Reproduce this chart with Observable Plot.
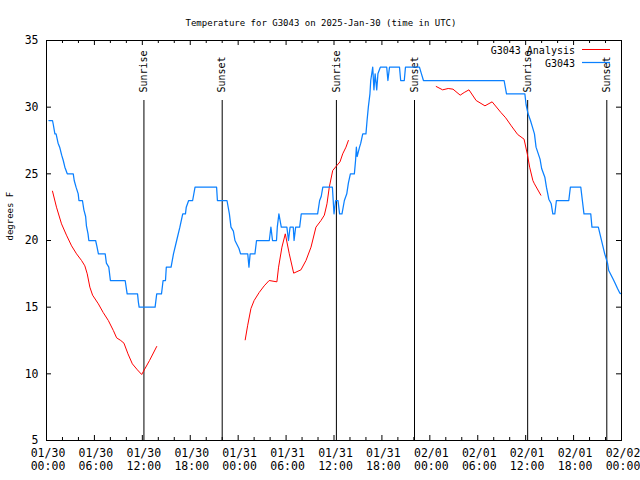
<!DOCTYPE html>
<html><head><meta charset="utf-8">
<script src="https://cdn.jsdelivr.net/npm/d3@7"></script>
<script src="https://cdn.jsdelivr.net/npm/@observablehq/plot@0.6"></script>
<style>body{margin:0;background:#fff}</style>
</head><body><div id="chart"></div>
<script>
// ---- data (hours after 2025-01-30 00:00 UTC, temperature °F) ----
const titleText = "Temperature for G3043 on 2025-Jan-30 (time in UTC)";
const yLabelText = "degrees F";
const seriesNames = ["G3043 Analysis", "G3043"];
const seriesColors = ["#ff0000", "#0a80ff"];

const blueHours = [0.3,0.75,0.85,1.05,1.2,1.45,1.65,1.9,2.1,2.3,2.6,3.35,3.47,3.7,3.97,4.06,4.5,4.68,4.9,5.0,5.2,5.3,6.15,6.3,6.5,7.35,7.5,7.8,8.0,9.85,10.1,11.4,11.5,11.6,13.6,13.8,14.4,14.6,14.9,15.0,15.6,15.9,16.3,16.7,17.06,17.4,17.5,17.8,18.3,18.6,21.3,21.4,22.6,22.9,23.1,23.4,23.6,24.1,24.3,25.2,25.35,25.5,26.1,26.3,27.9,28.1,28.3,28.8,28.9,29.1,29.4,30.1,30.3,30.5,30.9,31.0,31.2,31.7,31.9,33.95,34.2,34.4,34.6,35.8,36.0,36.2,36.5,36.7,37.0,37.3,37.6,37.8,38.05,38.55,38.7,38.8,38.9,39.2,39.35,39.6,40.0,40.14,40.3,40.5,40.6,40.85,41.0,41.15,41.35,41.5,41.8,42.6,42.75,42.95,44.2,44.35,44.8,44.95,46.7,46.95,47.2,57.3,57.6,59.9,60.05,60.3,60.6,60.85,61.1,61.3,61.8,62.0,62.4,62.6,62.9,63.2,63.4,63.65,63.85,65.4,65.6,66.9,67.1,67.3,68.15,68.3,69.1,69.3,69.6,69.9,70.25,70.4,70.96,71.2,71.5,71.8,72.0];
const blueTemps = [29,29,28.7,28,28,27.3,27,26.4,26,25.5,25,25,24.5,24,23.5,23,23,22.3,21.8,21.1,20.5,20,20,19.6,19,19,18.3,18,17,17,16,16,15.4,15,15,16,16,17,17,18,18,19,20,21,22,22,22.5,23,23,24,24,23,23,22,21,20.7,20,19.4,19,19,18,19,19,20,20,21,20,20,21,22,21,21,20,21,21,20,21,21,22,22,23,23.3,24,24,22,23,23,22,22,23,23.5,24.3,25,25,26,27,26.3,27,27.3,28,28,29,30,31,32,33,31.3,32.5,31.3,32.5,33,33,32,33,33,32,32,33,33,32.5,32,32,31,31,30.2,29.5,29,28.5,28,27,26.1,25.4,24.75,24,23.1,22.75,22,22,23,23,24,24,23,22,22,21,21,20.5,19.75,19,18.3,17.75,17.1,16.8,16.4,16.05,16];

// null entries separate the three analysis segments
const redHours = [0.75,1.25,1.88,2.5,3.14,3.76,4.39,4.8,5.1,5.43,5.77,6.49,7.1,7.74,8.37,8.78,9.3,9.7,10.2,10.75,11.38,11.92,12.9,13.8,
  null,
  24.88,25.18,25.6,26.0,26.63,27.26,27.88,28.85,29.06,29.48,29.9,30.4,30.95,31.86,32.49,33.12,33.74,34.37,34.79,35.12,35.41,35.84,36.25,36.75,37.09,37.5,37.8,
  null,
  48.8,49.6,50.3,50.9,51.8,52.3,52.9,53.8,54.9,55.8,56.9,57.5,58.2,59.0,59.8,60.2,60.5,60.9,61.1,61.9];
const redTemps = [23.7,22.5,21.25,20.4,19.6,19.0,18.5,18.1,17.5,16.5,15.9,15.25,14.6,14.0,13.25,12.7,12.5,12.3,11.5,10.75,10.3,9.95,11.0,12.05,
  null,
  12.55,13.6,14.9,15.5,16.1,16.6,17.0,16.9,18.0,19.5,20.5,19.0,17.55,17.8,18.5,19.5,21.0,21.5,21.9,22.75,24.0,25.25,25.55,25.9,26.5,27.0,27.5,
  null,
  31.55,31.3,31.4,31.35,30.9,31.1,31.3,30.5,30.1,30.4,29.6,29.2,28.6,27.95,27.6,26.5,25.5,24.5,24.25,23.4];

const eventHours = [12.2, 22.0, 36.3, 46.08, 60.25, 70.16];
const eventLabels = ["Sunrise","Sunset","Sunrise","Sunset","Sunrise","Sunset"];
const yTicks = [5,10,15,20,25,30,35];
const yDomain = [5, 35];
const eventLineTop = 30.5;
const eventLabelBase = 31.1;

// ---- build tables ----
const start = Date.UTC(2025,0,30);
const end = Date.UTC(2025,1,2);
const toDate = h => h == null ? null : new Date(start + h*3600e3);
const blue = blueHours.map((h,i)=>({t: toDate(h), v: blueTemps[i]}));
const red = redHours.map((h,i)=>({t: toDate(h), v: redTemps[i]}));
const events = eventHours.map((h,i)=>({t: toDate(h), label: eventLabels[i]}));
const majorX = d3.utcHour.every(6).range(new Date(start), new Date(end + 1));
const minorX = d3.utcHour.every(2).range(new Date(start), new Date(end + 1)).filter(d => d.getUTCHours() % 6 !== 0);

const W = 640, H = 480, mL = 46, mR = 19, mT = 40, mB = 40;
const iW = W - mL - mR, iH = H - mT - mB;
const mono = "DejaVu Sans Mono, monospace";
const fmt = d3.utcFormat("%m/%d\n%H:%M");

const svg = Plot.plot({
  width: W, height: H,
  marginLeft: mL, marginRight: mR, marginTop: mT, marginBottom: mB,
  style: {fontFamily: mono, background: "#fff", color: "#000", overflow: "visible"},
  x: {type: "utc", domain: [new Date(start), new Date(end)]},
  y: {domain: yDomain},
  marks: [
    Plot.axisX({ticks: majorX, tickSize: 0, tickPadding: 7, tickFormat: fmt, fontSize: 11.5, lineHeight: 1.13, label: null, dx: 1.5}),
    Plot.axisY({ticks: yTicks, tickSize: 0, tickPadding: 8, fontSize: 11.5, label: null}),
    // inward ticks on all four sides
    Plot.ruleX(majorX, {x: d => d, insetTop: iH - 5, stroke: "#000"}),
    Plot.ruleX(majorX, {x: d => d, insetBottom: iH - 5, stroke: "#000"}),
    Plot.ruleX(minorX, {x: d => d, insetTop: iH - 3, stroke: "#000"}),
    Plot.ruleX(minorX, {x: d => d, insetBottom: iH - 3, stroke: "#000"}),
    Plot.ruleY(yTicks, {y: d => d, insetRight: iW - 5, stroke: "#000"}),
    Plot.ruleY(yTicks, {y: d => d, insetLeft: iW - 5, stroke: "#000"}),
    // sunrise / sunset
    Plot.ruleX(events, {x: "t", y1: yDomain[0], y2: eventLineTop, stroke: "#000", strokeWidth: 1}),
    Plot.text(events, {x: "t", y: eventLabelBase, text: "label", rotate: -90, textAnchor: "start", fontSize: 10, fill: "#000"}),
    // series
    Plot.line(red, {x: "t", y: "v", stroke: seriesColors[0], strokeWidth: 1}),
    Plot.line(blue, {x: "t", y: "v", stroke: seriesColors[1], strokeWidth: 1.25}),
    Plot.frame({stroke: "#000"}),
    Plot.text([titleText], {frameAnchor: "top", dy: -21, dx: -13, fontSize: 9, fill: "#000"}),
    Plot.text([yLabelText], {frameAnchor: "left", dx: -36, rotate: -90, fontSize: 9, fill: "#000"})
  ]
});

// legend (top-right, inside the frame)
const lg = d3.select(svg).append("g").attr("font-family", mono).attr("font-size", 10);
seriesNames.forEach((name, i) => {
  const y = 50 + i * 13;
  lg.append("text").attr("x", 575).attr("y", y).attr("dy", "0.35em").attr("text-anchor", "end").attr("fill", "#000").text(name);
  lg.append("line").attr("x1", 582).attr("x2", 610).attr("y1", y - 0.5).attr("y2", y - 0.5)
    .attr("stroke", seriesColors[i]).attr("stroke-width", i === 1 ? 1.25 : 1);
});

document.getElementById("chart").append(svg);
</script>
</body></html>
